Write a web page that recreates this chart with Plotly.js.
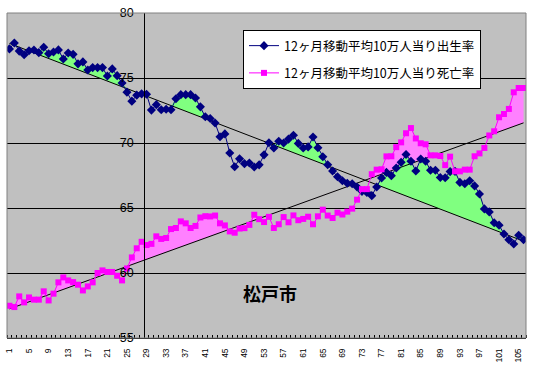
<!DOCTYPE html>
<html>
<head>
<meta charset="utf-8">
<script src="https://cdn.plot.ly/plotly-3.0.1.min.js"></script>
<style>html,body{margin:0;padding:0;background:#fff;}#chart{width:533px;height:374px;}</style>
</head>
<body>
<div id="chart"></div>
<script>
// ---- data ----
const categories = Array.from({length: 106}, (_, i) => i + 1);

const birthName = "12ヶ月移動平均10万人当り出生率";
const deathName = "12ヶ月移動平均10万人当り死亡率";

const birthRate = [
  77.24, 77.69, 77.07, 76.79, 77.10, 77.15, 76.95, 77.36, 76.87, 77.00,
  77.16, 76.46, 76.92, 76.82, 76.09, 76.24, 75.61, 75.80, 75.80, 75.80,
  75.15, 75.70, 75.18, 74.62, 73.91, 73.22, 73.68, 73.78, 73.75, 72.53,
  72.95, 72.56, 72.60, 72.56, 73.40, 73.72, 73.72, 73.72, 73.46, 72.78,
  72.02, 71.88, 71.54, 70.48, 70.70, 69.23, 68.17, 68.78, 68.41, 68.46,
  68.15, 68.32, 69.09, 70.02, 69.62, 70.13, 70.00, 70.30, 70.60, 69.97,
  69.62, 69.70, 70.46, 69.64, 68.94, 68.33, 67.85, 67.40, 67.10, 66.90,
  66.86, 66.62, 66.28, 66.20, 65.95, 66.62, 67.31, 67.74, 67.49, 68.08,
  68.51, 69.12, 68.60, 67.85, 68.77, 68.60, 67.90, 67.90, 67.35, 67.33,
  67.80, 67.82, 66.97, 66.87, 67.10, 66.70, 66.08, 64.93, 64.70, 63.87,
  63.68, 63.00, 62.56, 62.23, 62.90, 62.56
];

const deathRate = [
  57.48, 57.38, 58.20, 57.74, 58.12, 57.95, 57.95, 58.59, 57.89, 58.41,
  59.28, 59.66, 59.43, 59.30, 59.10, 58.66, 58.97, 59.28, 60.00, 60.20,
  60.08, 60.08, 59.79, 59.43, 60.35, 61.20, 61.90, 62.40, 62.15, 62.24,
  62.82, 62.62, 62.69, 63.38, 63.46, 63.97, 63.82, 63.46, 63.62, 64.27,
  64.37, 64.35, 64.42, 63.82, 63.66, 63.20, 63.10, 63.42, 63.45, 63.70,
  64.48, 64.14, 63.92, 64.32, 63.46, 63.75, 64.30, 63.90, 64.43, 64.06,
  64.16, 64.33, 63.75, 64.36, 64.87, 64.42, 64.23, 64.64, 64.50, 64.72,
  64.95, 65.64, 66.45, 66.45, 67.60, 67.95, 67.98, 68.97, 68.98, 69.68,
  70.05, 70.75, 71.15, 70.35, 69.98, 69.90, 69.05, 69.05, 69.00, 68.30,
  68.95, 67.82, 67.82, 67.95, 67.95, 68.98, 69.20, 69.62, 70.58, 70.90,
  71.98, 72.23, 72.62, 73.90, 74.23, 74.23
];

// straight trend lines: values read at the first and last category
const birthTrendEnds = [77.66, 62.45];
const deathTrendEnds = [57.24, 71.55];

const tickCategories = categories.filter(c => (c - 1) % 4 === 0);
const yTicks = [55, 60, 65, 70, 75, 80];
const chartTitle = "松戸市";
const axisCrossCategory = 29;

// ---- derived ----
const N = categories.length;
function straightLine(ends) {
  const c0 = categories[0], c1 = categories[N - 1];
  return categories.map(c => ends[0] + (ends[1] - ends[0]) * (c - c0) / (c1 - c0));
}
const birthTrend = straightLine(birthTrendEnds);
const deathTrend = straightLine(deathTrendEnds);
const birthAbove = birthRate.map((v, i) => Math.max(v, birthTrend[i]));
const deathAbove = deathRate.map((v, i) => Math.max(v, deathTrend[i]));

const noHover = {hoverinfo: 'skip', showlegend: false};
const clear = {width: 0, color: 'rgba(0,0,0,0)'};

const traces = [
  Object.assign({x: categories, y: deathTrend, mode: 'lines', line: clear}, noHover),
  Object.assign({x: categories, y: deathAbove, mode: 'lines', line: clear, fill: 'tonexty', fillcolor: '#FF80FF'}, noHover),
  Object.assign({x: categories, y: birthTrend, mode: 'lines', line: clear}, noHover),
  Object.assign({x: categories, y: birthAbove, mode: 'lines', line: clear, fill: 'tonexty', fillcolor: '#80FF80'}, noHover),
  Object.assign({x: categories, y: birthTrend, mode: 'lines', line: {width: 1, color: '#000000'}}, noHover),
  Object.assign({x: categories, y: deathTrend, mode: 'lines', line: {width: 1, color: '#000000'}}, noHover),
  {x: categories, y: birthRate, name: birthName, mode: 'lines+markers',
   line: {color: '#000080', width: 1}, marker: {symbol: 'diamond', size: 7, color: '#000080'}, legendgroup: 'b'},
  {x: categories, y: deathRate, name: deathName, mode: 'lines+markers',
   line: {color: '#FF00FF', width: 1}, marker: {symbol: 'square', size: 6, color: '#FF00FF'}, legendgroup: 'd'}
];

const layout = {
  width: 533, height: 374,
  margin: {l: 7, r: 7, t: 13, b: 36, pad: 0},
  paper_bgcolor: '#FFFFFF',
  plot_bgcolor: '#C0C0C0',
  showlegend: true,
  xaxis: {
    range: [0.5, N + 0.5],
    tickmode: 'array',
    tickvals: tickCategories,
    ticktext: tickCategories.map(String),
    tickangle: -90,
    ticks: '',
    ticklabelstandoff: 6,
    tickfont: {family: 'Liberation Sans, Arial, sans-serif', size: 8.5, color: '#000'},
    showgrid: false,
    zeroline: false,
    showline: true, linecolor: '#000', linewidth: 1,
    minor: {tickmode: 'linear', tick0: 0.5, dtick: 1, ticks: 'inside', ticklen: 3, tickcolor: '#000', showgrid: false},
    fixedrange: true
  },
  yaxis: {
    range: [55, 80],
    tickmode: 'array',
    tickvals: yTicks,
    ticks: 'inside', ticklen: 4, tickcolor: '#000',
    anchor: 'free',
    position: (axisCrossCategory - 1) / N,
    showline: true, linecolor: '#000', linewidth: 1,
    showgrid: true, gridcolor: '#000', gridwidth: 1,
    zeroline: false,
    ticklabelstandoff: 8,
    tickfont: {family: 'Liberation Sans, Arial, sans-serif', size: 12.5, color: '#000'},
    fixedrange: true
  },
  legend: {
    x: (243 - 7) / 519, y: 1 - (30 - 13) / 325, xanchor: 'left', yanchor: 'top',
    bgcolor: '#FFFFFF', bordercolor: '#000', borderwidth: 1,
    font: {family: 'Noto Sans CJK JP, sans-serif', size: 12.5, color: '#000'},
    traceorder: 'grouped', tracegroupgap: 8
  },
  shapes: [
    {type: 'rect', xref: 'paper', yref: 'paper', x0: 0, x1: 1, y0: 0, y1: 1,
     line: {color: '#808080', width: 1}, layer: 'above'}
  ],
  annotations: [
    {text: chartTitle, xref: 'paper', yref: 'paper', x: 0.507, y: 0.1385,
     xanchor: 'center', yanchor: 'middle', showarrow: false,
     font: {family: 'Noto Sans CJK JP, sans-serif', size: 18, weight: 'bold', color: '#000'}}
  ]
};

Plotly.newPlot('chart', traces, layout, {displayModeBar: false, staticPlot: true});
</script>
</body>
</html>
